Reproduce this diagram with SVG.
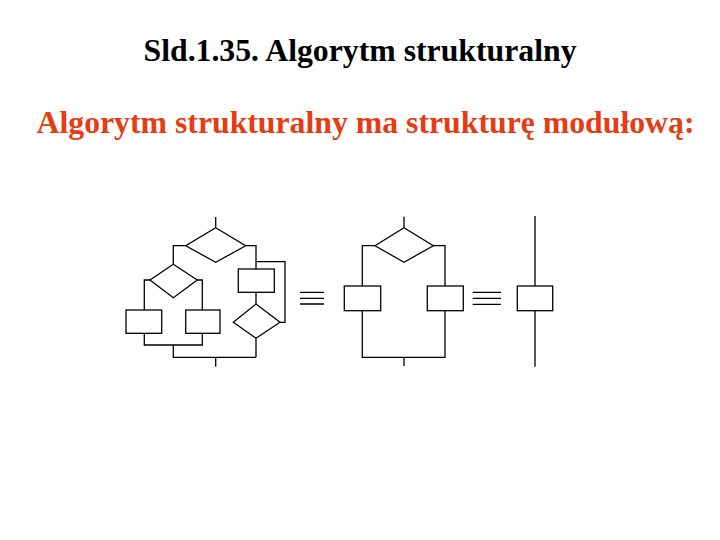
<svg xmlns="http://www.w3.org/2000/svg" width="720" height="540" viewBox="0 0 720 540">
<style>
.t{font-family:"Liberation Serif","Times New Roman",serif;font-weight:bold;font-size:32px}
.s{fill:#fff;stroke:#000;stroke-width:1.3}
.c{fill:none;stroke:#000;stroke-width:1.3}
</style>
<rect width="720" height="540" fill="#fff"/>
<text class="t" x="143.5" y="61" textLength="433" lengthAdjust="spacingAndGlyphs" fill="#000">Sld.1.35. Algorytm strukturalny</text>
<text class="t" x="36.5" y="132.5" textLength="658" lengthAdjust="spacingAndGlyphs" fill="#E63C14">Algorytm strukturalny ma strukturę modułową:</text>
<g id="connectors">
<path class="c" d="M215.7,217 V227.7"/>
<path class="c" d="M185.7,245.7 H173.3 V264.3"/>
<path class="c" d="M150,280 H144.3 V310"/>
<path class="c" d="M197.3,280 H202.3 V310"/>
<path class="c" d="M144.3,333.3 V345 H202.3 V333.3"/>
<path class="c" d="M173.3,345 V357.3 H256"/>
<path class="c" d="M215.7,357.3 V366.7"/>
<path class="c" d="M245.7,245.7 H256 V269"/>
<path class="c" d="M256,292.3 V304"/>
<path class="c" d="M280,322.3 H285 V261.7 H256"/>
<path class="c" d="M256,338.3 V357.3"/>
<path class="c" d="M300,292.3 H324 M300,298.3 H324 M300,304 H324"/>
<path class="c" d="M404,216.7 V227.7"/>
<path class="c" d="M375,245.7 H362.3 V286"/>
<path class="c" d="M433.3,245.7 H445 V286"/>
<path class="c" d="M362.3,310.7 V357.3 H445 V310.7"/>
<path class="c" d="M404,357.3 V366"/>
<path class="c" d="M472.7,292.3 H501 M472.7,298.3 H501 M472.7,304.3 H501"/>
<path class="c" d="M535,216 V286 M535,310.7 V366.7"/>
</g>
<g id="d1"><polygon class="s" points="215.7,227.7 245.7,245.7 215.7,262.3 185.7,245.7"/></g>
<g id="d2"><polygon class="s" points="173.3,264.3 197.3,280 173.3,297.7 150,280"/></g>
<g id="r1"><rect class="s" x="126" y="310" width="35.7" height="23.3"/></g>
<g id="r2"><rect class="s" x="185.7" y="310" width="34.3" height="23.3"/></g>
<g id="r3"><rect class="s" x="238.3" y="269" width="36" height="23.3"/></g>
<g id="d3"><polygon class="s" points="256,304 280,322.3 256,338.3 233.3,322.3"/></g>
<g id="d4"><polygon class="s" points="404,227.7 433.3,245.7 404,262.3 375,245.7"/></g>
<g id="r4"><rect class="s" x="344.3" y="286" width="36.4" height="24.7"/></g>
<g id="r5"><rect class="s" x="427.3" y="286" width="36" height="24.7"/></g>
<g id="r6"><rect class="s" x="517.3" y="286" width="35.4" height="24.7"/></g>
</svg>
